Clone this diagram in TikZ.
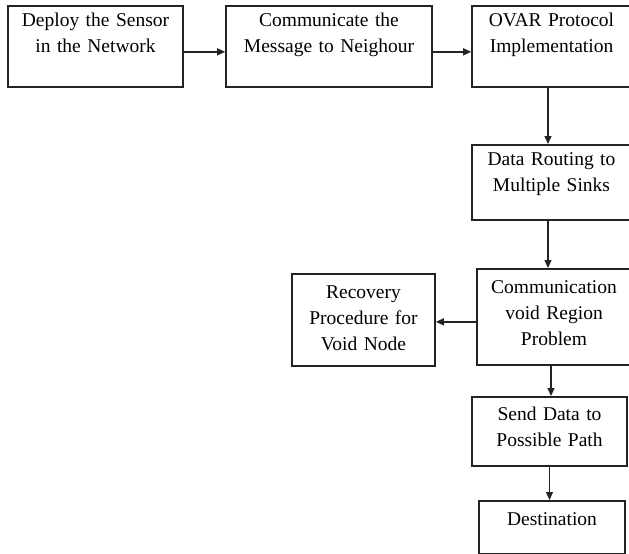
\documentclass[tikz,border=0pt]{standalone}
\usepackage{fontspec}
\setmainfont{Liberation Serif}
\usetikzlibrary{arrows.meta,positioning,calc}
\definecolor{ink}{RGB}{35,35,35}
\tikzset{
  >={Triangle[length=8pt,width=7pt]},
  box/.style={draw=ink,line width=1.7pt,text=black,align=center,anchor=north,
    inner xsep=0pt,inner ysep=0pt,font=\fontsize{19.5}{26}\selectfont},
  flow/.style={->,line width=1.3pt,draw=ink},
}

\begin{document}
\begin{tikzpicture}[x=1pt,y=-1pt]
    \useasboundingbox (0,0) rectangle (629,554);
    \clip (0,0) rectangle (629,554);
    % boxes: name/centre x/top/width/height/first baseline/text
    \foreach \n/\x/\y/\w/\h/\b/\t in {
      b1/95.5/5/175/81/21/{Deploy the Sensor\\in the Network},
      b2/329/5/206/81/21/{Communicate the\\Message to Neighour},
      b3/551.5/5/159/81/21/{OVAR Protocol\\Implementation},
      b4/551.5/144/159/75/21/{Data Routing to\\Multiple Sinks},
      b5/554/268/154/96/25/{Communication\\void Region\\Problem},
      b6/363.5/273/143/92/25/{Recovery\\Procedure for\\Void Node},
      b7/549.5/396/155/69/24/{Send Data to\\Possible Path},
      b8/552/500/146/53/25/{Destination}}{
      \node[box,text width=\w pt,text height=\b pt,text depth=\h pt-\b pt] (\n) at (\x,\y) {\t};
    }
    \draw[flow] ([yshift=-5.5pt]b1.east) -- ([yshift=-5.5pt]b2.west);
    \draw[flow] ([yshift=-5.5pt]b2.east) -- ([yshift=-5.5pt]b3.west);
    \draw[flow] ([xshift=-3.5pt]b3.south) -- ([xshift=-3.5pt]b4.north);
    \draw[flow] ([xshift=-3.5pt]b4.south) -- ([xshift=-3.5pt]b4.south |- b5.north);
    \draw[flow] ([yshift=-5pt]b5.west) -- ([yshift=-5pt]b5.west -| b6.east);
    \draw[flow] ([xshift=-3pt]b5.south) -- ([xshift=-3pt]b5.south |- b7.north);
    \draw[flow] (b7.south) -- (b7.south |- b8.north);
\end{tikzpicture}
\end{document}
